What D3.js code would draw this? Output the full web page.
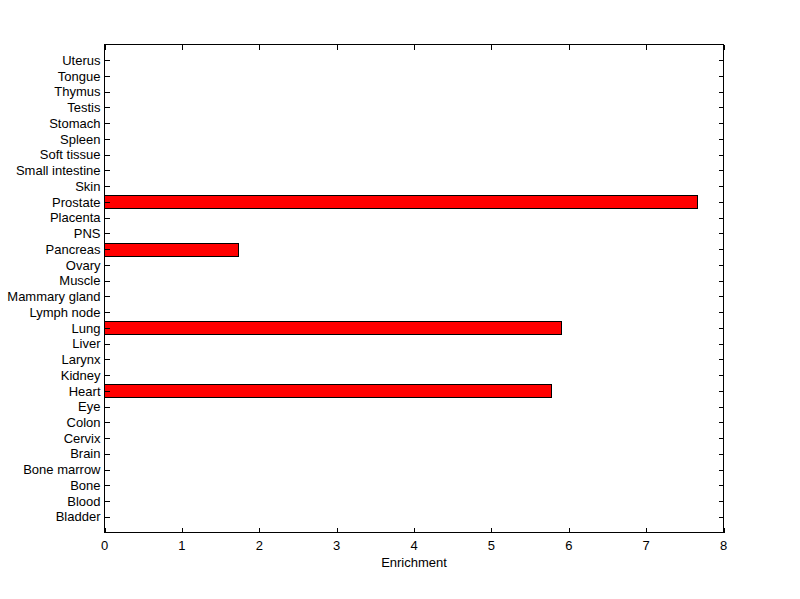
<!DOCTYPE html>
<html lang="en">
<head>
    <meta charset="UTF-8">
    <title>Enrichment</title>
    <script src="https://d3js.org/d3.v7.min.js"></script>
    <style>
        body { margin: 0; background: #fff; }
        text { font-family: "Liberation Sans", Arial, sans-serif; font-size: 13px; fill: #000; }
    </style>
</head>
<body>
<script>
    // bottom to top, as in the figure
    const tissues = ["Bladder", "Blood", "Bone", "Bone marrow", "Brain", "Cervix", "Colon", "Eye",
        "Heart", "Kidney", "Larynx", "Liver", "Lung", "Lymph node", "Mammary gland", "Muscle",
        "Ovary", "Pancreas", "PNS", "Placenta", "Prostate", "Skin", "Small intestine", "Soft tissue",
        "Spleen", "Stomach", "Testis", "Thymus", "Tongue", "Uterus"];
    const enrichment = [0, 0, 0, 0, 0, 0, 0, 0,
        5.78, 0, 0, 0, 5.91, 0, 0, 0,
        0, 1.73, 0, 0, 7.66, 0, 0, 0,
        0, 0, 0, 0, 0, 0];
    const xTicks = [0, 1, 2, 3, 4, 5, 6, 7, 8];

    const width = 800;
    const height = 599;
    const mLeft = 104.5, mRight = 723.5, mTop = 44.5, mBottom = 532.5;

    const svg = d3.select("body").append("svg")
        .attr("width", width)
        .attr("height", height);

    const x = d3.scaleLinear().domain([0, 8]).range([mLeft, mRight]);
    const y = d3.scaleLinear().domain([0, tissues.length + 1]).range([mBottom, mTop]);
    const step = y(0) - y(1);
    const barH = Math.round(step * 0.8);

    // bars (only nonzero values are visible)
    svg.selectAll("rect.bar")
        .data(tissues.map((t, i) => ({ t, v: enrichment[i], i })).filter(d => d.v > 0))
        .join("rect")
        .attr("class", "bar")
        .attr("x", x(0))
        .attr("y", d => Math.round(y(d.i + 1) - barH / 2) + 0.5)
        .attr("width", d => Math.round(x(d.v) - x(0)))
        .attr("height", barH)
        .attr("fill", "#ff0000")
        .attr("stroke", "#000")
        .attr("stroke-width", 1)
        .attr("shape-rendering", "crispEdges");

    const tickLen = 5;

    // x ticks, mirrored top and bottom
    const xt = svg.append("g").attr("shape-rendering", "crispEdges");
    xTicks.forEach(t => {
        const px = Math.round(x(t)) + 0.5;
        xt.append("line").attr("x1", px).attr("x2", px).attr("y1", mBottom).attr("y2", mBottom - tickLen).attr("stroke", "#000");
        xt.append("line").attr("x1", px).attr("x2", px).attr("y1", mTop).attr("y2", mTop + tickLen).attr("stroke", "#000");
        xt.append("text").attr("x", x(t)).attr("y", mBottom + 17).attr("text-anchor", "middle").text(t);
    });

    // y ticks, mirrored left and right
    const yt = svg.append("g").attr("shape-rendering", "crispEdges");
    tissues.forEach((name, i) => {
        const py = Math.round(y(i + 1)) + 0.5;
        yt.append("line").attr("x1", mLeft).attr("x2", mLeft + tickLen).attr("y1", py).attr("y2", py).attr("stroke", "#000");
        yt.append("line").attr("x1", mRight).attr("x2", mRight - tickLen).attr("y1", py).attr("y2", py).attr("stroke", "#000");
        yt.append("text").attr("x", mLeft - 4).attr("y", y(i + 1)).attr("dy", "0.36em").attr("text-anchor", "end").text(name);
    });

    // box
    svg.append("rect")
        .attr("x", mLeft).attr("y", mTop)
        .attr("width", mRight - mLeft).attr("height", mBottom - mTop)
        .attr("fill", "none").attr("stroke", "#000")
        .attr("shape-rendering", "crispEdges");

    svg.append("text")
        .attr("x", (mLeft + mRight) / 2)
        .attr("y", mBottom + 34)
        .attr("text-anchor", "middle")
        .text("Enrichment");
</script>
</body>
</html>
